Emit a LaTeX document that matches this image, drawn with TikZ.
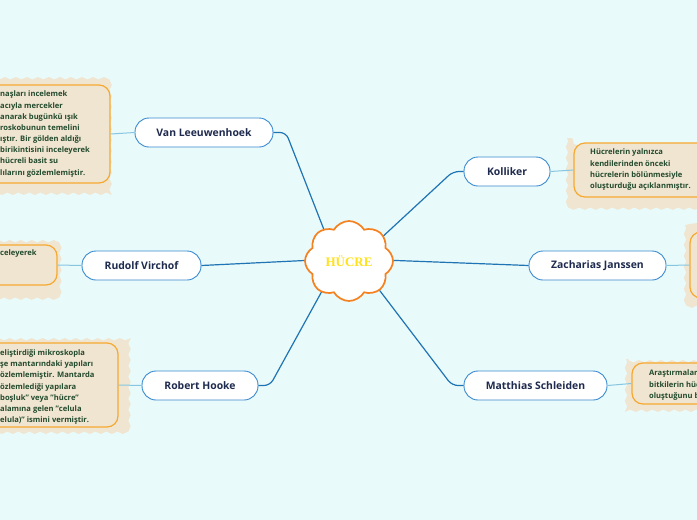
\documentclass[tikz,border=0pt]{standalone}
\usepackage{fontspec}
\setmainfont{Open Sans}
\newfontfamily\hfont{Liberation Serif}
\usetikzlibrary{shapes.symbols,decorations.pathmorphing}
\definecolor{bg}{HTML}{E9FAFA}
\definecolor{nodeblue}{HTML}{3A8AD0}
\definecolor{linkblue}{HTML}{1E74B4}
\definecolor{sublink}{HTML}{86C6E0}
\definecolor{navy}{HTML}{1E2A4E}
\definecolor{beige}{HTML}{EFE5D0}
\definecolor{noteorange}{HTML}{F7A830}
\definecolor{notegreen}{HTML}{234A2E}
\definecolor{cloudorange}{HTML}{F58220}
\definecolor{hyellow}{HTML}{FFE21A}
\begin{document}
\begin{tikzpicture}[x=1pt,y=-1pt,
  topic/.style={draw=nodeblue, fill=white, line width=0.9pt, rounded corners=14pt,
    minimum height=29pt, inner sep=0pt, text=navy, font=\fontsize{10.4}{12}\selectfont\bfseries},
  mainlink/.style={draw=linkblue, line width=1.2pt, rounded corners=6pt},
  sublinkst/.style={draw=sublink, line width=1pt},
  notebox/.style={draw=noteorange, fill=beige, line width=1.2pt, rounded corners=11pt, inner sep=0pt},
  wavy/.style={fill=beige, decorate, decoration={snake, amplitude=1.2pt, segment length=11pt}},
  notetext/.style={text=notegreen, font=\fontsize{7.6}{11.15}\selectfont\bfseries, align=left, inner sep=0pt, anchor=north west}
]
\useasboundingbox (0,0) rectangle (697,520);
\clip (0,0) rectangle (697,520);
\fill[bg] (0,0) rectangle (697,520);

% topic nodes
\node[topic, minimum width=138pt] (vl) at (204,132.5) {Van Leeuwenhoek};
\node[topic, minimum width=119pt] (rv) at (141.5,265.5) {Rudolf Virchof};
\node[topic, minimum width=116pt] (rh) at (200,385.5) {Robert Hooke};
\node[topic, minimum width=86pt] (ko) at (507,171.5) {Kolliker};
\node[topic, minimum width=137pt] (zj) at (597.5,265.5) {Zacharias Janssen};
\node[topic, minimum width=143pt] (ms) at (535.5,385.5) {Matthias Schleiden};

% bends and cloud end points
\coordinate (kvl) at (286,132.5);
\coordinate (krh) at (270,385.5);
\coordinate (kko) at (453,171.5);
\coordinate (kms) at (452,385.5);
\coordinate (cvl) at (328,240);
\coordinate (crv) at (315,260);
\coordinate (crh) at (327,282);
\coordinate (cko) at (372,246.5);
\coordinate (czj) at (383,260);
\coordinate (cms) at (375.5,285);

% main connectors
\draw[mainlink] (vl.east) -- (kvl) -- (cvl);
\draw[mainlink] (rv.east) -- (crv);
\draw[mainlink] (rh.east) -- (krh) -- (crh);
\draw[mainlink] (ko.west) -- (kko) -- (cko);
\draw[mainlink] (zj.west) -- (czj);
\draw[mainlink] (ms.west) -- (kms) -- (cms);

% central cloud
\node[cloud, cloud puffs=8, cloud puff arc=120, aspect=1.1, draw=cloudorange, fill=white,
  line width=1.7pt, minimum width=88pt, minimum height=80pt, inner sep=0pt,
  text=hyellow, font=\hfont\fontsize{13}{15}\selectfont\bfseries] (c) at (349,261) {HÜCRE};

% notes
\fill[wavy] (-30,76) rectangle (117,190);
\node[notebox, minimum width=140pt, minimum height=98pt] (bvl) at (40,134) {};
\node[notetext] (tvl) at (0,91) {naşları incelemek\\acıyla mercekler\\anarak bugünkü ışık\\roskobunun temelini\\ıştır. Bir gölden aldığı\\birikintisini inceleyerek\\hücreli basit su\\lılarını gözlemlemiştir.};

\fill[wavy] (-30,239) rectangle (63,292);
\node[notebox, minimum width=87pt, minimum height=40pt] (brv) at (13.5,265) {};
\node[notetext] (trv) at (0,250) {celeyerek};

\fill[wavy] (-30,337) rectangle (125,433);
\node[notebox, minimum width=148pt, minimum height=84pt] (brh) at (44,385) {};
\node[notetext] (trh) at (0,349.5) {eliştirdiği mikroskopla\\şe mantarındaki yapıları\\özlemlemiştir. Mantarda\\özlemlediği yapılara\\boşluk" veya "hücre"\\alamına gelen "celula\\elula)" ismini vermiştir.};

\fill[wavy] (567,138) rectangle (730,203);
\node[notebox, minimum width=150pt, minimum height=54pt] (bko) at (649,170) {};
\node[notetext] (tko) at (590,149) {Hücrelerin yalnızca\\kendilerinden önceki\\hücrelerin bölünmesiyle\\oluşturduğu açıklanmıştır.};

\fill[wavy] (685,225) rectangle (760,305);
\node[notebox, minimum width=70pt, minimum height=66pt] (bzj) at (725,265) {};

\fill[wavy] (626,359) rectangle (760,408);
\node[notebox, minimum width=130pt, minimum height=41pt] (bms) at (697,383.5) {};
\node[notetext] (tms) at (649,370) {Araştırmaları sonucunda\\bitkilerin hücrelerden\\oluştuğunu bulmuştur.};

% note connectors
\draw[sublinkst] (vl.west) -- (bvl.east);
\draw[sublinkst] (rv.west) -- (brv.east);
\draw[sublinkst] (rh.west) -- (brh.east);
\draw[sublinkst] (ko.east) -- (bko.west);
\draw[sublinkst] (zj.east) -- (bzj.west);
\draw[sublinkst] (ms.east) -- (bms.west);
\end{tikzpicture}
\end{document}
